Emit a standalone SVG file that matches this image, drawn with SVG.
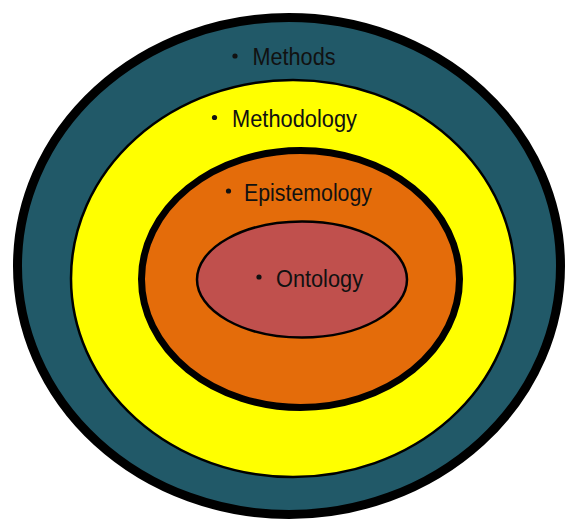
<svg xmlns="http://www.w3.org/2000/svg" width="565" height="520" viewBox="0 0 565 520">
<style>
.lbl{font-family:"Liberation Sans",Arial,sans-serif;font-size:23px;fill:#111;}
.dot{fill:#111;}
</style>
<rect width="565" height="520" fill="#fff"/>
<g id="methods">
<ellipse cx="289" cy="266" rx="271.5" ry="248.5" fill="#215968" stroke="#000" stroke-width="9"/>
<circle class="dot" cx="235" cy="56" r="2.6"/>
<text class="lbl" x="252.5" y="65" textLength="83" lengthAdjust="spacingAndGlyphs">Methods</text>
</g>
<g id="methodology">
<ellipse cx="293" cy="278.5" rx="222" ry="198.5" fill="#ffff00" stroke="#000" stroke-width="2.5"/>
<circle class="dot" cx="214.5" cy="117.5" r="2.6"/>
<text class="lbl" x="232" y="127" textLength="125" lengthAdjust="spacingAndGlyphs">Methodology</text>
</g>
<g id="epistemology">
<ellipse cx="300.5" cy="279" rx="159" ry="128.5" fill="#e46c0a" stroke="#000" stroke-width="7"/>
<circle class="dot" cx="228.5" cy="191" r="2.6"/>
<text class="lbl" x="244" y="201" textLength="128" lengthAdjust="spacingAndGlyphs">Epistemology</text>
</g>
<g id="ontology">
<ellipse cx="302" cy="279.5" rx="105" ry="58" fill="#c0504d" stroke="#000" stroke-width="2.5"/>
<circle class="dot" cx="259" cy="277" r="2.6"/>
<text class="lbl" x="276" y="287" textLength="87" lengthAdjust="spacingAndGlyphs">Ontology</text>
</g>
<g id="connectors"></g>
</svg>
